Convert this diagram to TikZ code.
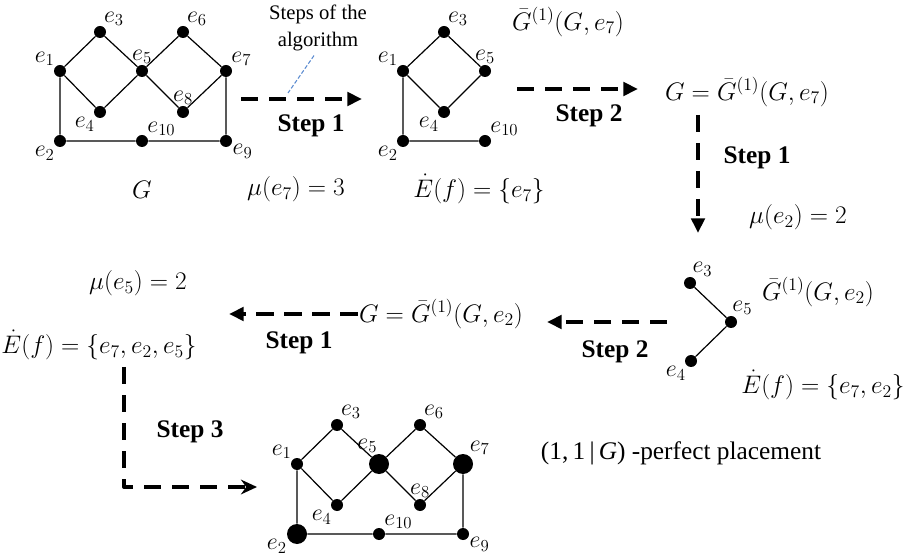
\RequirePackage{fix-cm}
\documentclass[tikz,border=0pt]{standalone}
\usepackage{amsmath,amssymb}
\usepackage{fontspec}
\setmainfont{Liberation Serif}
\usepackage{tikz}
\usetikzlibrary{arrows.meta}
\definecolor{notelink}{HTML}{5B8BD0}
\tikzset{
  fig/.style={line join=round,x=0.75pt,y=-0.75pt},
  vtx/.style={circle,fill=black,inner sep=0pt,minimum size=9pt},
  bigvtx/.style={vtx,minimum size=15pt},
  lbl/.style={font=\fontsize{18}{20}\selectfont,inner sep=0.5pt},
  edge/.style={line width=0.9pt},
  mtext/.style={font=\fontsize{19}{22}\selectfont,inner sep=1pt},
  steplbl/.style={font=\fontsize{19}{22}\selectfont\bfseries,inner sep=1pt},
  steparrow/.style={line width=3pt,dash pattern=on 13pt off 8pt,
    -{Triangle[length=11pt,width=10pt]}},
}

\begin{document}
\begin{tikzpicture}[fig]
  \useasboundingbox (0,0) rectangle (916,555);
  % graph G
  \foreach \n/\x/\y/\a in {1/60/71/135,2/60/141/225,3/100/32/60,4/100/112/225,5/142/71/90,
      6/183/32/60,7/226/71/45,8/183/112/90,9/226/141/-25,10/142/141/45}
    \node[vtx,label={[lbl]\a:$e_{\n}$}] (ga\n) at (\x,\y) {};
  \draw[edge] (ga1)--(ga3)--(ga5)--(ga6)--(ga7)--(ga8)--(ga5)--(ga4)--(ga1)
    --(ga2)--(ga10)--(ga9)--(ga7);
  \node[mtext] (gname) at (142,190) {$G$};
  % graph after step 2
  \foreach \n/\x/\y/\a in {1/403/71/135,2/403/141/225,3/444/32/60,4/444/112/225,
      5/485/71/90,10/485/141/45}
    \node[vtx,label={[lbl]\a:$e_{\n}$}] (gb\n) at (\x,\y) {};
  \draw[edge] (gb1)--(gb3)--(gb5)--(gb4)--(gb1)--(gb2)--(gb10);
  % small graph
  \foreach \n/\x/\y/\a in {3/690/283/75,5/731/322/85,4/691/361/225}
    \node[vtx,label={[lbl]\a:$e_{\n}$}] (gc\n) at (\x,\y) {};
  \draw[edge] (gc3)--(gc5)--(gc4);
  % placement
  \foreach \n/\x/\y/\a/\s in {1/297/464/135/vtx,2/297/534/205/bigvtx,3/337/425/60/vtx,
      4/337/505/225/vtx,5/379/464/95/bigvtx,6/420/425/60/vtx,7/463/464/55/bigvtx,
      8/420/505/90/vtx,9/463/534/-25/vtx,10/379/534/45/vtx}
    \node[\s,label={[lbl]\a:$e_{\n}$}] (gd\n) at (\x,\y) {};
  \draw[edge] (gd1)--(gd3)--(gd5)--(gd6)--(gd7)--(gd8)--(gd5)--(gd4)--(gd1)
    --(gd2)--(gd10)--(gd9)--(gd7);

  % texts
  \node[align=center,font=\fontsize{15.5}{20}\selectfont] (note) at (318,28) {Steps of the\\algorithm};
  \node[mtext] (mu1) at (296,189) {$\mu(e_7)=3$};
  \node[mtext] (ef1) at (479,189) {$\dot{E}(f)=\{e_7\}$};
  \node[mtext] (gb1t) at (568,22) {$\bar{G}^{(1)}(G,e_7)$};
  \node[mtext] (gg1) at (747,92) {$G=\bar{G}^{(1)}(G,e_7)$};
  \node[mtext] (mu2) at (798,217) {$\mu(e_2)=2$};
  \node[mtext] (gb2t) at (818,292) {$\bar{G}^{(1)}(G,e_2)$};
  \node[mtext] (ef2) at (823,385) {$\dot{E}(f)=\{e_7,e_2\}$};
  \node[mtext] (gg2) at (441,314) {$G=\bar{G}^{(1)}(G,e_2)$};
  \node[mtext] (mu3) at (138,283) {$\mu(e_5)=2$};
  \node[mtext] (ef3) at (99,345) {$\dot{E}(f)=\{e_7,e_2,e_5\}$};
  \node[font=\fontsize{19}{22}\selectfont] (perf) at (681,453) {(1,\,1\,|\,\textit{G}) -perfect placement};
  \node[steplbl] (st1) at (311,126) {Step 1};
  \node[steplbl] (st2) at (589,116) {Step 2};
  \node[steplbl] (st3) at (757,158) {Step 1};
  \node[steplbl] (st4) at (615,352) {Step 2};
  \node[steplbl] (st5) at (299,343) {Step 1};
  \node[steplbl] (st6) at (190,432) {Step 3};

  % step arrows
  \coordinate (a1s) at (241,99);  \coordinate (a1e) at (362,99);
  \coordinate (a2s) at (517,89);  \coordinate (a2e) at (638,89);
  \coordinate (a3s) at (698,115); \coordinate (a3e) at (698,233);
  \coordinate (a4s) at (667,322); \coordinate (a4e) at (547,322);
  \coordinate (a5e) at (229,314);
  \coordinate (a6s) at (124,367); \coordinate (a6e) at (257,487);
  \coordinate (notept) at (288,93);
  \draw[steparrow] (a1s)--(a1e);
  \draw[steparrow] (a2s)--(a2e);
  \draw[steparrow] (a3s)--(a3e);
  \draw[steparrow] (a4s)--(a4e);
  \draw[steparrow] (gg2.west)--(a5e);
  \draw[steparrow,-{Stealth[length=12pt,width=11pt]}] (a6s)|-(a6e);
  \draw[notelink,line width=0.8pt,dash pattern=on 3pt off 1.5pt] ([xshift=-3pt]note.south)--(notept);
\end{tikzpicture}
\end{document}
